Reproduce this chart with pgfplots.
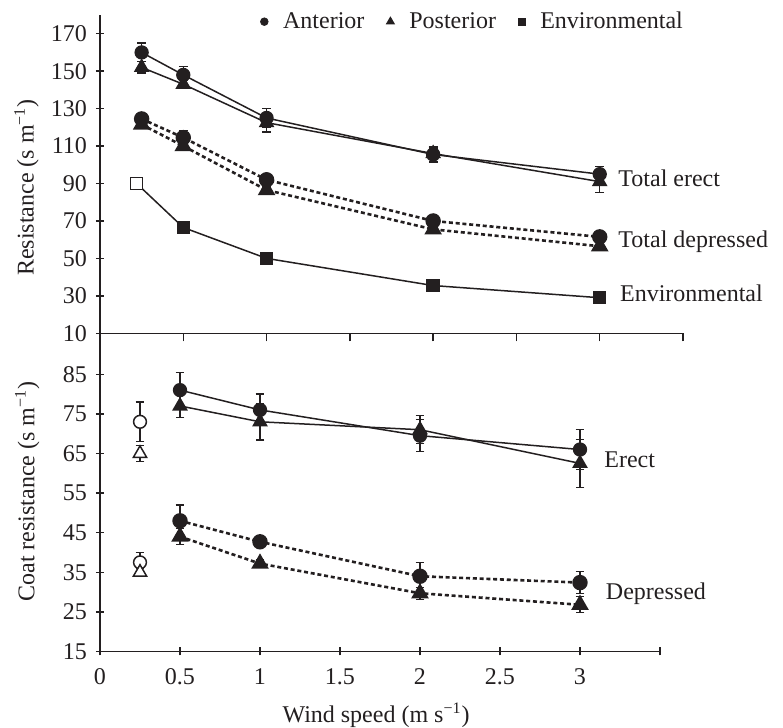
\documentclass[border=0pt]{standalone}
\usepackage{fontspec}
\setmainfont{Liberation Serif}
\usepackage{pgfplots}
\pgfplotsset{compat=1.18}
\definecolor{ink}{RGB}{35,31,32}

\pgfplotsset{
  panel/.style={
    scale only axis,
    axis x line=bottom, axis y line=left,
    axis line style={-, line width=0.75pt, ink},
    xmin=0, xmax=3.5,
    tick align=center,
    major tick length=4pt,
    every tick/.style={ink, line width=0.75pt},
    /pgf/number format/assume math mode=true,
    tick label style={font=\fontsize{12}{14}\selectfont, text=ink},
    yticklabel style={xshift=-1pt},
    label style={font=\fontsize{12}{14}\selectfont, text=ink},
    clip=false,
  },
  eb/.style={
    error bars/y dir=both, error bars/y explicit,
    error bars/error bar style={line width=0.6pt, solid, ink},
    error bars/error mark options={rotate=90, mark size=2.2pt, line width=0.6pt, solid, ink},
  },
  ant/.style={ink, line width=0.75pt, mark=*, mark size=3.2pt, mark options={solid, fill=ink}, eb},
  post/.style={ink, line width=0.75pt, mark=triangle*, mark size=3.8pt, mark options={solid, fill=ink}, eb},
  dep/.style={dash pattern=on 2pt off 1.4pt, line width=1.3pt},
}

\begin{document}
\begin{tikzpicture}
\useasboundingbox (0,0) rectangle (391.5pt,364pt);

% top panel: total and environmental resistance
\begin{axis}[panel,
  at={(50pt,197.35pt)}, anchor=south west,
  width=291.5pt, height=159.15pt,
  ymin=10, ymax=180,
  ytick={10,30,...,170},
  xtick={0.5,1,...,3.5}, xticklabels={},
  xtick style={yshift=-2pt},
  ylabel={Resistance (s m\textsuperscript{−1})},
  ylabel style={at={(axis description cs:-0.126,0.458)}, anchor=center},
  legend columns=-1,
  legend style={draw=none, fill=none, at={(axis description cs:0.641,0.979)}, anchor=center,
    font=\fontsize{12}{14}\selectfont, text=ink,
    legend image code/.code={\draw[#1] plot coordinates {(0pt,0pt)};},
    /tikz/every odd column/.append style={column sep=5.5pt},
    /tikz/every even column/.append style={column sep=9pt}},
]
\addlegendimage{only marks, mark=*, mark size=1.9pt, ink}
\addlegendimage{only marks, mark=triangle*, mark size=2.3pt, ink}
\addlegendimage{only marks, mark=square*, mark size=1.8pt, ink}

% total erect
\addplot[ant] coordinates {(0.25,160) +- (0,5) (0.5,148) +- (0,4.5) (1,125) +- (0,5) (2,105.5) +- (0,4) (3,95) +- (0,4)};
\addplot[post] coordinates {(0.25,152) +- (0,3) (0.5,143) +- (0,2) (1,122.5) +- (0,5) (2,106) +- (0,3) (3,91) +- (0,6)};
% total depressed
\addplot[ant, dep] coordinates {(0.25,124.5) +- (0,3) (0.5,114.5) +- (0,4) (1,92) +- (0,2) (2,70) +- (0,3) (3,61.5) +- (0,3)};
\addplot[post, dep] coordinates {(0.25,121.5) +- (0,2) (0.5,110) +- (0,2) (1,86.5) +- (0,2) (2,65.5) +- (0,2) (3,56.5) +- (0,2)};
% environmental
\addplot[ink, line width=0.75pt, mark=square*, mark size=3pt, mark options={fill=ink}, mark indices={2,3,4,5}]
  coordinates {(0.22,90) (0.5,66.5) (1,50) (2,35.5) (3,29)};
\addplot[only marks, ink, mark=square*, mark size=3pt, mark options={fill=white, line width=0.75pt}]
  coordinates {(0.22,90)};
\legend{Anterior, Posterior, Environmental}

\node[anchor=west, inner sep=0, font=\fontsize{12}{14}\selectfont, text=ink] at (axis cs:3.11,92.7) {Total erect};
\node[anchor=west, inner sep=0, font=\fontsize{12}{14}\selectfont, text=ink] at (axis cs:3.11,58.9) {Total depressed};
\node[anchor=west, inner sep=0, font=\fontsize{12}{14}\selectfont, text=ink] at (axis cs:3.12,31.3) {Environmental};
\end{axis}

% bottom panel: coat resistance
\begin{axis}[panel,
  at={(50pt,38.25pt)}, anchor=south west,
  width=280pt, height=159.1pt,
  ymin=15, ymax=95.35,
  ytick={15,25,...,85},
  xtick={0,0.5,...,3.5}, xticklabels={0,0.5,1,1.5,2,2.5,3,},
  xticklabel style={yshift=-3pt},
  ylabel={Coat resistance (s m\textsuperscript{−1})},
  ylabel style={at={(axis description cs:-0.130,0.503)}, anchor=center},
  xlabel={Wind speed (m s\textsuperscript{−1})},
  xlabel style={at={(axis description cs:0.493,-0.2)}, anchor=center},
]
% erect
\addplot[ant] coordinates {(0.5,81) +- (0,4.5) (1,76) +- (0,4) (2,69.5) +- (0,4) (3,66) +- (0,5)};
\addplot[post] coordinates {(0.5,77) +- (0,3) (1,73) +- (0,4.6) (2,71) +- (0,3.5) (3,62.5) +- (0,6)};
% depressed
\addplot[ant, dep] coordinates {(0.5,48) +- (0,4) (1,42.7) +- (0,1.5) (2,34) +- (0,3.5) (3,32.4) +- (0,2.7)};
\addplot[post, dep] coordinates {(0.5,44) +- (0,2) (1,37.2) +- (0,1) (2,29.7) +- (0,1.5) (3,26.8) +- (0,2)};
% still air (open symbols)
\addplot[ant, only marks, mark options={fill=white, line width=0.75pt}] coordinates {(0.25,73) +- (0,5) (0.25,37.5) +- (0,2.5)};
\addplot[post, only marks, mark options={fill=white, line width=0.75pt}] coordinates {(0.25,65) +- (0,2) (0.25,35) +- (0,1)};

\node[anchor=west, inner sep=0, font=\fontsize{12}{14}\selectfont, text=ink] at (axis cs:3.15,63.4) {Erect};
\node[anchor=west, inner sep=0, font=\fontsize{12}{14}\selectfont, text=ink] at (axis cs:3.16,29.7) {Depressed};
\end{axis}
\end{tikzpicture}
\end{document}
